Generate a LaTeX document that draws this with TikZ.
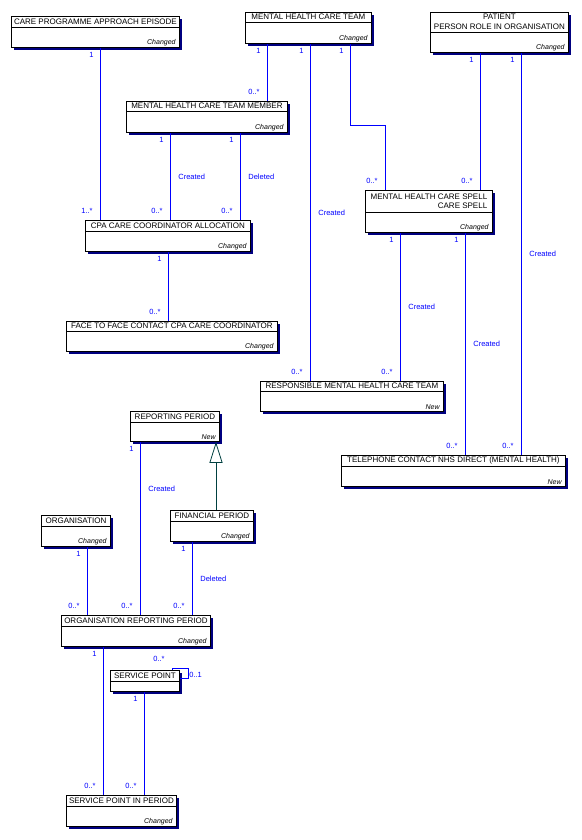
\documentclass[tikz,border=0pt]{standalone}
\usepackage{fontspec}
\setmainfont{Liberation Sans}
\usetikzlibrary{arrows.meta,shadows}

\definecolor{assocblue}{RGB}{0,0,255}
\definecolor{shadownavy}{RGB}{0,0,128}
\definecolor{genteal}{RGB}{0,64,64}

\tikzset{
  entbox/.style={draw=black, fill=white, line width=0.8pt, inner sep=0pt,
    drop shadow={fill=shadownavy, opacity=1, shadow xshift=2.5pt, shadow yshift=-2.5pt}},
  enttitle/.style={inner sep=0pt, font=\fontsize{8}{9.5}\selectfont, align=center},
  entstatus/.style={inner xsep=4pt, inner ysep=2pt, font=\fontsize{7}{8}\selectfont\itshape},
  assoc/.style={draw=assocblue, line width=0.8pt},
  mult/.style={text=assocblue, inner sep=1pt, font=\fontsize{7.5}{8}\selectfont},
  mstart/.style={mult, anchor=north west, xshift=-12pt, yshift=-3pt},
  mend/.style={mult, anchor=south west, xshift=-20pt, yshift=5.5pt},
  role/.style={mult, anchor=west, xshift=7pt},
  gen/.style={draw=genteal, line width=0.8pt, -{Triangle[open, length=21pt, width=13pt]}}
}

% [title options]{name}{x}{y}{width}{height}{header}{title}{status}
\newcommand\entity[9][]{%
  \node[entbox, anchor=north west, minimum width=#5pt, minimum height=#6pt] (#2) at (#3,#4) {};
  \draw[line width=0.8pt] ([yshift=-#7pt]#2.north west) -- ([yshift=-#7pt]#2.north east);
  \node[enttitle, #1] at ([yshift=-0.5*#7pt]#2.north) {#8};
  \node[entstatus, anchor=south east] at (#2.south east) {#9};
}

\begin{document}
\begin{tikzpicture}[x=1pt, y=-1pt]
  \useasboundingbox (0,0) rectangle (581,840);
  % entities
  \entity{cpae}{11}{16}{168}{31}{11}{CARE PROGRAMME APPROACH EPISODE}{Changed}
  \entity{mhct}{245}{12}{126}{31}{10}{MENTAL HEALTH CARE TEAM}{Changed}
  \entity{patient}{430}{12}{138}{40}{20}{PATIENT\\PERSON ROLE IN ORGANISATION}{Changed}
  \entity{mhctm}{126}{101}{161}{31}{10}{MENTAL HEALTH CARE TEAM MEMBER}{Changed}
  \entity{cpaa}{85}{220}{165}{31}{11}{CPA CARE COORDINATOR ALLOCATION}{Changed}
  \entity{f2f}{66}{321}{211}{30}{10}{FACE TO FACE CONTACT CPA CARE COORDINATOR}{Changed}
  \entity[align=right]{spell}{365}{190}{127}{42}{22}{MENTAL HEALTH CARE SPELL\\CARE SPELL}{Changed}
  \entity{resp}{260}{381}{183}{30}{10}{RESPONSIBLE MENTAL HEALTH CARE TEAM}{New}
  \entity{tel}{341}{455}{224}{31}{11}{TELEPHONE CONTACT NHS DIRECT (MENTAL HEALTH)}{New}
  \entity{rp}{130}{411}{89}{30}{11}{REPORTING PERIOD}{New}
  \entity{fin}{170}{510}{83}{31}{11}{FINANCIAL PERIOD}{Changed}
  \entity{org}{41}{515}{69}{31}{11}{ORGANISATION}{Changed}
  \entity{orp}{61}{615}{149}{31}{11}{ORGANISATION REPORTING PERIOD}{Changed}
  \entity{sp}{110}{670}{69}{21}{11}{SERVICE POINT}{}
  \entity{spip}{66}{795}{110}{31}{11}{SERVICE POINT IN PERIOD}{Changed}

  % care programme and team members
  \draw[assoc] (cpae.south -| 100,0) node[mstart]{1} -- (cpaa.north -| 100,0) node[mend]{1..*};
  \draw[assoc] (mhct.south -| 267,0) node[mstart]{1} -- (mhctm.north -| 267,0) node[mend]{0..*};
  \draw[assoc] (mhctm.south -| 170,0) node[mstart]{1} -- node[role]{Created} (cpaa.north -| 170,0) node[mend]{0..*};
  \draw[assoc] (mhctm.south -| 240,0) node[mstart]{1} -- node[role]{Deleted} (cpaa.north -| 240,0) node[mend]{0..*};
  \draw[assoc] (cpaa.south -| 168,0) node[mstart]{1} -- (f2f.north -| 168,0) node[mend]{0..*};

  % team, patient and spell
  \draw[assoc] (mhct.south -| 310,0) node[mstart]{1} -- node[role]{Created} (resp.north -| 310,0) node[mend]{0..*};
  \draw[assoc] (mhct.south -| 350,0) node[mstart]{1} |- (385,125) -- (spell.north -| 385,0) node[mend]{0..*};
  \draw[assoc] (patient.south -| 480,0) node[mstart]{1} -- (spell.north -| 480,0) node[mend]{0..*};
  \draw[assoc] (patient.south -| 521,0) node[mstart]{1} -- node[role]{Created} (tel.north -| 521,0) node[mend]{0..*};
  \draw[assoc] (spell.south -| 400,0) node[mstart]{1} -- node[role]{Created} (resp.north -| 400,0) node[mend]{0..*};
  \draw[assoc] (spell.south -| 465,0) node[mstart]{1} -- node[role]{Created} (tel.north -| 465,0) node[mend]{0..*};

  % periods
  \draw[gen] (fin.north -| 216,0) -- (rp.south -| 216,0);
  \draw[assoc] (rp.south -| 140,0) node[mstart]{1} -- node[role, pos=0.27]{Created} (orp.north -| 140,0) node[mend]{0..*};
  \draw[assoc] (org.south -| 87,0) node[mstart]{1} -- (orp.north -| 87,0) node[mend]{0..*};
  \draw[assoc] (fin.south -| 192,0) node[mstart]{1} -- node[role]{Deleted} (orp.north -| 192,0) node[mend]{0..*};

  % service points
  \draw[assoc] (orp.south -| 103,0) node[mstart]{1} -- (spip.north -| 103,0) node[mend]{0..*};
  \draw[assoc] (sp.south -| 144,0) node[mstart]{1} -- (spip.north -| 144,0) node[mend]{0..*};
  \draw[assoc] (sp.north -| 172,0) node[mult, anchor=south west, xshift=-20pt, yshift=7pt]{0..*}
    |- (188,668) -- node[mult, anchor=west, yshift=-2pt]{0..1} (188,678) -- (sp.east |- 0,678);
\end{tikzpicture}
\end{document}
